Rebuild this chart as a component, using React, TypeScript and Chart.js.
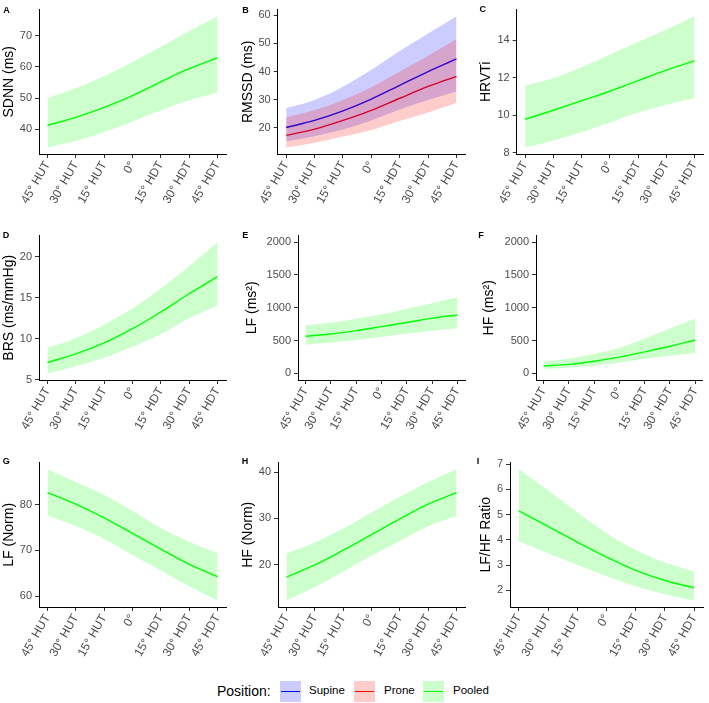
import React, { useEffect, useRef } from "react";
import { Chart, registerables } from "chart.js";

Chart.register(...registerables);

const FONT = "'Liberation Sans', Arial, Helvetica, sans-serif";

// ---------- data ----------
const angles = [-45, -30, -15, 0, 15, 30, 45];
const angleLabels = ["45° HUT", "30° HUT", "15° HUT", "0°", "15° HDT", "30° HDT", "45° HDT"];

// A: SDNN (pooled)
const sdnnFit = [41.3, 43.8, 47.0, 50.8, 55.2, 59.4, 62.9];
const sdnnUpper = [50.0, 53.1, 57.0, 61.5, 66.4, 71.4, 76.2];
const sdnnLower = [34.2, 36.3, 39.1, 42.5, 46.1, 49.3, 51.8];
const sdnnTicks = [40, 50, 60, 70];

// B: RMSSD (supine / prone)
const rmssdSupineFit = [20.1, 22.6, 26.0, 30.2, 35.1, 40.0, 44.5];
const rmssdSupineUpper = [27.0, 29.9, 34.6, 40.6, 47.3, 53.5, 59.7];
const rmssdSupineLower = [15.2, 17.0, 19.4, 22.6, 26.5, 29.9, 32.9];
const rmssdProneFit = [17.3, 19.5, 22.6, 26.2, 30.5, 34.7, 38.3];
const rmssdProneUpper = [23.7, 26.3, 29.9, 34.4, 40.0, 45.6, 51.6];
const rmssdProneLower = [13.0, 14.7, 16.9, 19.2, 22.4, 25.4, 28.8];
const rmssdTicks = [20, 30, 40, 50, 60];

// C: HRVTi
const hrvtiFit = [9.78, 10.26, 10.77, 11.28, 11.85, 12.41, 12.91];
const hrvtiUpper = [11.6, 11.98, 12.57, 13.25, 13.92, 14.59, 15.3];
const hrvtiLower = [8.27, 8.64, 9.09, 9.61, 10.14, 10.56, 10.9];
const hrvtiTicks = [8, 10, 12, 14];

// D: BRS
const brsFit = [7.1, 8.15, 9.5, 11.23, 13.27, 15.5, 17.58];
const brsUpper = [8.92, 10.08, 11.73, 13.73, 16.15, 18.85, 21.8];
const brsLower = [5.77, 6.65, 7.7, 9.04, 10.58, 12.5, 14.1];
const brsTicks = [5, 10, 15, 20];

// E: LF (ms²)
const lfFit = [567, 600, 652, 714, 776, 843, 890];
const lfUpper = [733, 771, 833, 900, 986, 1071, 1162];
const lfLower = [438, 471, 510, 557, 605, 652, 690];
const powerTicks = [0, 500, 1000, 1500, 2000];

// F: HF (ms²)
const hfFit = [114, 138, 186, 248, 329, 414, 510];
const hfUpper = [186, 224, 295, 390, 533, 686, 833];
const hfLower = [71, 90, 119, 162, 224, 271, 310];

// G: LF (Norm)
const lfNormFit = [82.6, 80.1, 77.1, 73.7, 70.3, 67.0, 64.25];
const lfNormUpper = [87.7, 84.9, 82.05, 78.6, 74.9, 71.9, 69.4];
const lfNormLower = [77.6, 75.3, 72.5, 69.0, 65.6, 62.2, 59.1];
const lfNormTicks = [60, 70, 80];

// H: HF (Norm)
const hfNormFit = [17.3, 19.9, 23.1, 26.5, 29.9, 33.1, 35.6];
const hfNormUpper = [22.4, 24.8, 27.8, 31.3, 34.7, 37.9, 40.7];
const hfNormLower = [12.2, 15.1, 18.5, 21.9, 25.1, 28.3, 30.6];
const hfNormTicks = [20, 30, 40];

// I: LF/HF Ratio
const ratioFit = [5.15, 4.53, 3.91, 3.32, 2.79, 2.39, 2.1];
const ratioUpper = [6.8, 5.96, 5.09, 4.26, 3.6, 3.1, 2.75];
const ratioLower = [3.93, 3.47, 3.01, 2.56, 2.16, 1.85, 1.6];
const ratioTicks = [2, 3, 4, 5, 6, 7];

// ---------- styles ----------
const SUPINE = { line: "#0000FF", fill: "rgba(0,0,255,0.2)", key: "#CCCCFF" };
const PRONE = { line: "#FF0000", fill: "rgba(255,0,0,0.2)", key: "#FFCCCC" };
const POOLED = { line: "#00FF00", fill: "rgba(0,255,0,0.2)", key: "#CCFFCC" };

type Band = { fit: number[]; upper: number[]; lower: number[]; style: typeof POOLED; bandOrder: number };

type PanelSpec = {
  letter: string;
  col: number;
  row: number;
  title: string;
  bands: Band[];
  ticks: number[];
  limits?: [number, number];
  yWidth: number;
  titlePad: number;
  letterX: number;
  letterBase: number;
};

const pooled = (fit: number[], upper: number[], lower: number[]): Band[] => [
  { fit, upper, lower, style: POOLED, bandOrder: 1 },
];

const panels: PanelSpec[] = [
  { letter: "A", col: 0, row: 0, title: "SDNN (ms)", bands: pooled(sdnnFit, sdnnUpper, sdnnLower), ticks: sdnnTicks, yWidth: 39, titlePad: 0.8, letterX: 3.3, letterBase: 13.3 },
  {
    letter: "B", col: 1, row: 0, title: "RMSSD (ms)",
    bands: [
      { fit: rmssdSupineFit, upper: rmssdSupineUpper, lower: rmssdSupineLower, style: SUPINE, bandOrder: 2 },
      { fit: rmssdProneFit, upper: rmssdProneUpper, lower: rmssdProneLower, style: PRONE, bandOrder: 1 },
    ],
    ticks: rmssdTicks, yWidth: 41.7, titlePad: 3.9, letterX: 242.3, letterBase: 13.3,
  },
  { letter: "C", col: 2, row: 0, title: "HRVTi", bands: pooled(hrvtiFit, hrvtiUpper, hrvtiLower), ticks: hrvtiTicks, yWidth: 44.7, titlePad: 5.9, letterX: 479.5, letterBase: 12.9 },
  { letter: "D", col: 0, row: 1, title: "BRS (ms/mmHg)", bands: pooled(brsFit, brsUpper, brsLower), ticks: brsTicks, yWidth: 39, titlePad: 0.8, letterX: 2.7, letterBase: 238.3 },
  { letter: "E", col: 1, row: 1, title: "LF (ms²)", bands: pooled(lfFit, lfUpper, lfLower), ticks: powerTicks, limits: [0, 2000], yWidth: 62, titlePad: 7.3, letterX: 242.3, letterBase: 238.3 },
  { letter: "F", col: 2, row: 1, title: "HF (ms²)", bands: pooled(hfFit, hfUpper, hfLower), ticks: powerTicks, limits: [0, 2000], yWidth: 64, titlePad: 8.6, letterX: 478.3, letterBase: 238.3 },
  { letter: "G", col: 0, row: 2, title: "LF (Norm)", bands: pooled(lfNormFit, lfNormUpper, lfNormLower), ticks: lfNormTicks, yWidth: 39, titlePad: 0.8, letterX: 2.7, letterBase: 464.5 },
  { letter: "H", col: 1, row: 2, title: "HF (Norm)", bands: pooled(hfNormFit, hfNormUpper, hfNormLower), ticks: hfNormTicks, yWidth: 42, titlePad: 3.4, letterX: 241.7, letterBase: 465 },
  { letter: "I", col: 2, row: 2, title: "LF/HF Ratio", bands: pooled(ratioFit, ratioUpper, ratioLower), ticks: ratioTicks, yWidth: 38, titlePad: 5.4, letterX: 476.7, letterBase: 465 },
];

const colLeft = [0, 236, 472];
const colWidth = [236, 236, 237];
const colPadRight = [10, 7, 6];
const rowTop = [0, 226, 453];
const rowPadTop = [1, 1, 2];
const CANVAS_H = 226;
const PLOT_BOTTOM = 154;

function Panel({ spec }: { spec: PanelSpec }) {
  const ref = useRef<HTMLCanvasElement>(null);
  useEffect(() => {
    if (!ref.current) return;
    const pts = (arr: number[]) => arr.map((y, i) => ({ x: angles[i], y }));
    const datasets: any[] = [];
    spec.bands.forEach((b) => {
      datasets.push({
        data: pts(b.fit),
        borderColor: b.style.line,
        borderWidth: 1.4,
        pointRadius: 0,
        fill: false,
        cubicInterpolationMode: "monotone",
        order: 5,
      });
    });
    spec.bands.forEach((b) => {
      datasets.push({
        data: pts(b.upper),
        borderWidth: 0,
        borderColor: "rgba(0,0,0,0)",
        backgroundColor: b.style.fill,
        pointRadius: 0,
        fill: "+1",
        cubicInterpolationMode: "monotone",
        order: b.bandOrder,
      });
      datasets.push({
        data: pts(b.lower),
        borderWidth: 0,
        borderColor: "rgba(0,0,0,0)",
        pointRadius: 0,
        fill: false,
        cubicInterpolationMode: "monotone",
        order: b.bandOrder,
      });
    });

    let lo: number, hi: number;
    if (spec.limits) {
      [lo, hi] = spec.limits;
    } else {
      const all = spec.bands.flatMap((b) => [...b.upper, ...b.lower, ...b.fit]);
      lo = Math.min(...all);
      hi = Math.max(...all);
    }
    const exp = (hi - lo) * 0.05;
    const yMin = lo - exp;
    const yMax = hi + exp;

    const chart = new Chart(ref.current, {
      type: "line",
      data: { datasets },
      options: {
        responsive: false,
        animation: false,
        events: [],
        layout: { padding: { top: rowPadTop[spec.row], right: colPadRight[spec.col], bottom: 0, left: 0 } },
        plugins: {
          legend: { display: false },
          tooltip: { enabled: false },
          filler: { drawTime: "beforeDatasetDraw" },
        } as any,
        scales: {
          x: {
            type: "linear",
            min: -49.5,
            max: 49.5,
            afterBuildTicks: (s: any) => {
              s.ticks = angles.map((v) => ({ value: v }));
            },
            afterFit: (s: any) => {
              s.height = CANVAS_H - PLOT_BOTTOM;
            },
            ticks: {
              autoSkip: false,
              minRotation: 60,
              maxRotation: 60,
              color: "#4D4D4D",
              font: { family: FONT, size: 12 },
              padding: 1,
              callback: (v: any) => angleLabels[angles.indexOf(Number(v))] ?? "",
            },
            grid: { drawOnChartArea: false, drawTicks: true, tickLength: 4, color: "#333333", lineWidth: 1 },
            border: { display: true, color: "#000000", width: 1 },
          },
          y: {
            type: "linear",
            min: yMin,
            max: yMax,
            afterBuildTicks: (s: any) => {
              s.ticks = spec.ticks.map((v) => ({ value: v }));
            },
            afterFit: (s: any) => {
              s.width = spec.yWidth;
            },
            ticks: {
              color: "#4D4D4D",
              font: { family: FONT, size: 11 },
              padding: 3,
              callback: (v: any) => String(v),
            },
            grid: { drawOnChartArea: false, drawTicks: true, tickLength: 4, color: "#333333", lineWidth: 1 },
            border: { display: true, color: "#000000", width: 1 },
            title: {
              display: true,
              text: spec.title,
              color: "#000000",
              font: { family: FONT, size: 14 },
              padding: { top: spec.titlePad, bottom: 0 },
            },
          },
        },
      } as any,
    });
    return () => chart.destroy();
  }, [spec]);

  return (
    <canvas
      ref={ref}
      width={colWidth[spec.col]}
      height={CANVAS_H}
      style={{
        position: "absolute",
        left: colLeft[spec.col],
        top: rowTop[spec.row],
        width: colWidth[spec.col],
        height: CANVAS_H,
      }}
    />
  );
}

const legendItems = [
  { label: "Supine", style: SUPINE, boxX: 280, textX: 309 },
  { label: "Prone", style: PRONE, boxX: 354, textX: 384 },
  { label: "Pooled", style: POOLED, boxX: 423, textX: 453 },
];

export default function App() {
  return (
    <div
      style={{
        position: "absolute",
        left: 0,
        top: 0,
        width: 709,
        height: 703,
        background: "#ffffff",
        fontFamily: FONT,
        overflow: "hidden",
      }}
    >
      {panels.map((p) => (
        <Panel key={p.letter} spec={p} />
      ))}
      {panels.map((p) => (
        <span
          key={"l" + p.letter}
          style={{
            position: "absolute",
            left: p.letterX,
            top: p.letterBase - 7.6,
            fontSize: 9,
            lineHeight: "9px",
            fontWeight: "bold",
            color: "#000",
            whiteSpace: "nowrap",
          }}
        >
          {p.letter}
        </span>
      ))}
      <span
        style={{
          position: "absolute",
          left: 217,
          top: 684,
          fontSize: 14,
          lineHeight: "14px",
          color: "#000",
          whiteSpace: "nowrap",
        }}
      >
        Position:
      </span>
      {legendItems.map((it) => (
        <React.Fragment key={it.label}>
          <div
            style={{
              position: "absolute",
              left: it.boxX,
              top: 681,
              width: 21,
              height: 21,
              background: it.style.key,
            }}
          >
            <div
              style={{
                position: "absolute",
                left: 1,
                right: 1,
                top: 9.75,
                height: 1.5,
                background: it.style.line,
              }}
            />
          </div>
          <span
            style={{
              position: "absolute",
              left: it.textX,
              top: 685.3,
              fontSize: 11.5,
              lineHeight: "11.5px",
              color: "#000",
              whiteSpace: "nowrap",
            }}
          >
            {it.label}
          </span>
        </React.Fragment>
      ))}
    </div>
  );
}
